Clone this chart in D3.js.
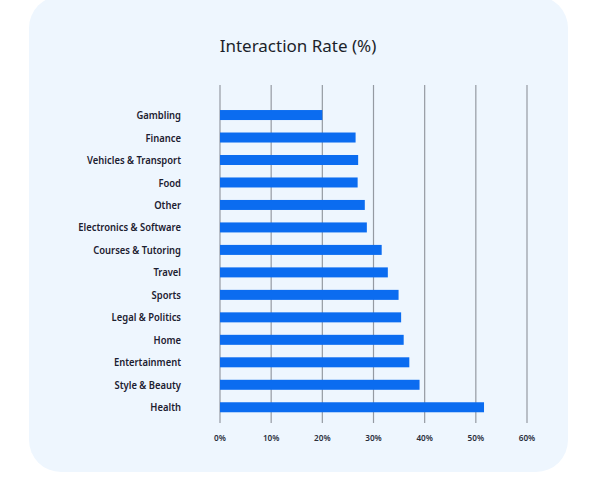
<!DOCTYPE html>
<meta charset="utf-8">
<head>
	<title>Interaction Rate</title>
</head>
<style>
body{
	margin: 0;
	background: #fff;
}
svg{
	display: block;
}
.cat text{
	font-family: "Noto Sans", sans-serif;
	font-weight: 600;
	font-size: 11.5px;
	fill: #1c2030;
}
.ticks text{
	font-family: "Noto Sans", sans-serif;
	font-weight: 600;
	font-size: 8.2px;
	fill: #2a2e3c;
}
.title{
	font-family: "Noto Sans", sans-serif;
	font-size: 17px;
	fill: #1c1f2a;
}
</style>
<body>
<svg width="600" height="479"></svg>

<script src="https://cdnjs.cloudflare.com/ajax/libs/d3/7.8.5/d3.min.js"></script>
<script>

var categories = ['Gambling', 'Finance', 'Vehicles & Transport', 'Food', 'Other',
	'Electronics & Software', 'Courses & Tutoring', 'Travel', 'Sports',
	'Legal & Politics', 'Home', 'Entertainment', 'Style & Beauty', 'Health'];
var rates = [20.0, 26.5, 27.0, 26.9, 28.3, 28.7, 31.6, 32.8, 34.9, 35.4, 35.9, 37.0, 39.0, 51.6];
var tickValues = [0, 10, 20, 30, 40, 50, 60];

var squeeze = 0.82; // category lettering in the reference is narrow

var svg = d3.select('svg');

// card
svg.append('rect')
	.attr('x', 29).attr('y', -4)
	.attr('width', 539).attr('height', 476)
	.attr('rx', 32).attr('ry', 32)
	.attr('fill', '#eef6fe');

svg.append('text')
	.attr('class', 'title')
	.attr('x', 298).attr('y', 52)
	.attr('text-anchor', 'middle')
	.text('Interaction Rate (%)');

var x = d3.scaleLinear().domain([0, 60]).range([220, 527]);
var y = d3.scaleBand().domain(categories).range([103.8, 418.5])
	.paddingInner(0.555).paddingOuter(0.2775);

// grid
svg.append('g')
	.selectAll('line')
	.data(tickValues)
	.enter()
	.append('line')
	.attr('x1', function(d){ return x(d); })
	.attr('x2', function(d){ return x(d); })
	.attr('y1', 85).attr('y2', 423)
	.attr('stroke', '#959aa2')
	.attr('stroke-width', 1.2);

// bars
svg.append('g')
	.selectAll('rect')
	.data(rates)
	.enter()
	.append('rect')
	.attr('x', x(0))
	.attr('y', function(d, i){ return y(categories[i]); })
	.attr('width', function(d){ return x(d) - x(0); })
	.attr('height', y.bandwidth())
	.attr('fill', '#0b6cf0');

// category labels
svg.append('g')
	.attr('class', 'cat')
	.selectAll('text')
	.data(categories)
	.enter()
	.append('text')
	.attr('transform', function(d){
		return 'translate(181,' + (y(d) + y.bandwidth() / 2) + ') scale(' + squeeze + ',1)';
	})
	.attr('dy', '0.35em')
	.attr('text-anchor', 'end')
	.text(function(d){ return d; });

// tick labels
svg.append('g')
	.attr('class', 'ticks')
	.selectAll('text')
	.data(tickValues)
	.enter()
	.append('text')
	.attr('x', function(d){ return x(d); })
	.attr('y', 441)
	.attr('text-anchor', 'middle')
	.text(function(d){ return d + '%'; });

</script>
</body>
</html>
